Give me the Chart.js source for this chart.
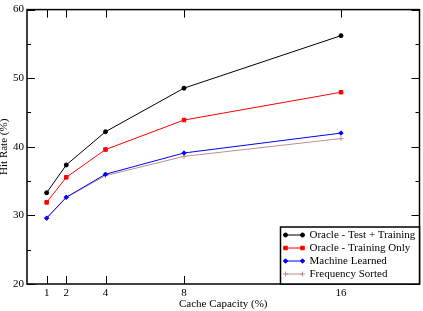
<!DOCTYPE html>
<html>
<head>
<meta charset="utf-8">
<script src="https://cdn.jsdelivr.net/npm/chart.js@4.4.0/dist/chart.umd.min.js"></script>
<style>
  body { margin: 0; background: #fff; }
  #wrap { width: 423px; height: 311px; }
</style>
</head>
<body>
<div id="wrap"><canvas id="hitChart" width="423" height="311"></canvas></div>
<script>
// values
let cacheCapacity = [1, 2, 4, 8, 16];
let oracleTestTraining = [33.3, 37.35, 42.2, 48.55, 56.2];
let oracleTrainingOnly = [31.9, 35.55, 39.6, 43.9, 47.95];
let machineLearned = [29.6, 32.65, 36.0, 39.1, 42.0];
let frequencySorted = [29.6, 32.6, 35.8, 38.6, 41.2];

let seriesNames = ["Oracle - Test + Training", "Oracle - Training Only", "Machine Learned", "Frequency Sorted"];
let xTicks = [1, 2, 4, 8, 16];
let yTicks = [20, 30, 40, 50, 60];

const serif = "'Liberation Serif', 'Times New Roman', serif";

function toPoints(values) {
  return cacheCapacity.map((c, i) => ({ x: c, y: values[i] }));
}

function makeSet(label, values, color, style, radius) {
  return {
    label: label,
    data: toPoints(values),
    borderColor: color,
    backgroundColor: color,
    borderWidth: 1,
    pointStyle: style,
    pointRadius: radius,
    pointBorderWidth: 1,
    pointHoverRadius: radius,
    tension: 0,
    fill: false,
  };
}

// box round the plot, inward ticks on all four sides, and the legend
const framePlugin = {
  id: "frame",
  afterDraw(chart) {
    const { ctx, chartArea: a, scales } = chart;
    const x = scales.x, y = scales.y;
    ctx.save();
    ctx.strokeStyle = "#000";
    ctx.lineWidth = 1.5;
    ctx.strokeRect(a.left, a.top, a.right - a.left, a.bottom - a.top);

    ctx.lineWidth = 1;
    ctx.beginPath();
    x.ticks.forEach((t) => {
      const px = Math.round(x.getPixelForValue(t.value)) + 0.5;
      ctx.moveTo(px, a.bottom); ctx.lineTo(px, a.bottom - 8);
      ctx.moveTo(px, a.top); ctx.lineTo(px, a.top + 8);
    });
    y.ticks.forEach((t, i) => {
      const py = Math.round(y.getPixelForValue(t.value)) + 0.5;
      ctx.moveTo(a.left, py); ctx.lineTo(a.left + 8, py);
      ctx.moveTo(a.right, py); ctx.lineTo(a.right - 8, py);
      if (i < y.ticks.length - 1) {
        const mid = (t.value + y.ticks[i + 1].value) / 2;
        const pm = Math.round(y.getPixelForValue(mid)) + 0.5;
        ctx.moveTo(a.left, pm); ctx.lineTo(a.left + 4, pm);
        ctx.moveTo(a.right, pm); ctx.lineTo(a.right - 4, pm);
      }
    });
    ctx.stroke();

    // legend
    const w = 139, h = 57;
    const lx = a.right - w, ly = a.bottom - h;
    ctx.fillStyle = "#fff";
    ctx.fillRect(lx, ly, w, h);
    ctx.lineWidth = 1.5;
    ctx.strokeRect(lx, ly, w, h);
    ctx.font = "11px " + serif;
    ctx.textBaseline = "middle";
    ctx.textAlign = "left";
    chart.data.datasets.forEach((ds, i) => {
      const cy = ly + 8 + i * 13;
      ctx.strokeStyle = ds.borderColor;
      ctx.lineWidth = 1;
      ctx.beginPath();
      ctx.moveTo(lx + 5, cy); ctx.lineTo(lx + 22, cy);
      ctx.stroke();
      const opts = { pointStyle: ds.pointStyle, radius: ds.pointRadius, rotation: 0, borderWidth: 1 };
      ctx.fillStyle = ds.backgroundColor;
      Chart.helpers.drawPoint(ctx, opts, lx + 5, cy);
      ctx.fillStyle = ds.backgroundColor;
      Chart.helpers.drawPoint(ctx, opts, lx + 22, cy);
      ctx.fillStyle = "#000";
      ctx.fillText(ds.label, lx + 29, cy + 0.5);
    });
    ctx.restore();
  },
};

let ctx = document.getElementById("hitChart").getContext("2d");
let hitChart = new Chart(ctx, {
  type: "line",
  data: {
    datasets: [
      makeSet(seriesNames[0], oracleTestTraining, "#000000", "circle", 2),
      makeSet(seriesNames[1], oracleTrainingOnly, "#ff0000", "rect", 2.5),
      makeSet(seriesNames[2], machineLearned, "#0000ff", "rectRot", 2.2),
      makeSet(seriesNames[3], frequencySorted, "#bc8f8f", "cross", 2.5),
    ],
  },
  options: {
    responsive: false,
    animation: false,
    layout: { padding: { top: 8, right: 2, left: 0, bottom: 0 } },
    plugins: {
      legend: { display: false },
      tooltip: { enabled: false },
    },
    scales: {
      x: {
        type: "linear",
        min: 0,
        max: 20,
        afterBuildTicks: (s) => { s.ticks = xTicks.map((v) => ({ value: v })); },
        afterFit: (s) => { s.height = 27; },
        grid: { display: false, drawTicks: false },
        border: { display: false },
        ticks: { color: "#000", padding: 3, maxRotation: 0, font: { family: serif, size: 11 } },
        title: {
          display: true,
          text: "Cache Capacity (%)",
          color: "#000",
          font: { family: serif, size: 11, lineHeight: 1.2 },
          padding: { top: 0, bottom: 0 },
        },
      },
      y: {
        min: 20,
        max: 60,
        afterBuildTicks: (s) => { s.ticks = yTicks.map((v) => ({ value: v })); },
        afterFit: (s) => { s.width = 27; },
        grid: { display: false, drawTicks: false },
        border: { display: false },
        ticks: { color: "#000", padding: 3, font: { family: serif, size: 11 } },
        title: {
          display: true,
          text: "Hit Rate (%)",
          color: "#000",
          font: { family: serif, size: 11, lineHeight: 1 },
          padding: { top: -1, bottom: 0 },
        },
      },
    },
  },
  plugins: [framePlugin],
});
</script>
</body>
</html>
